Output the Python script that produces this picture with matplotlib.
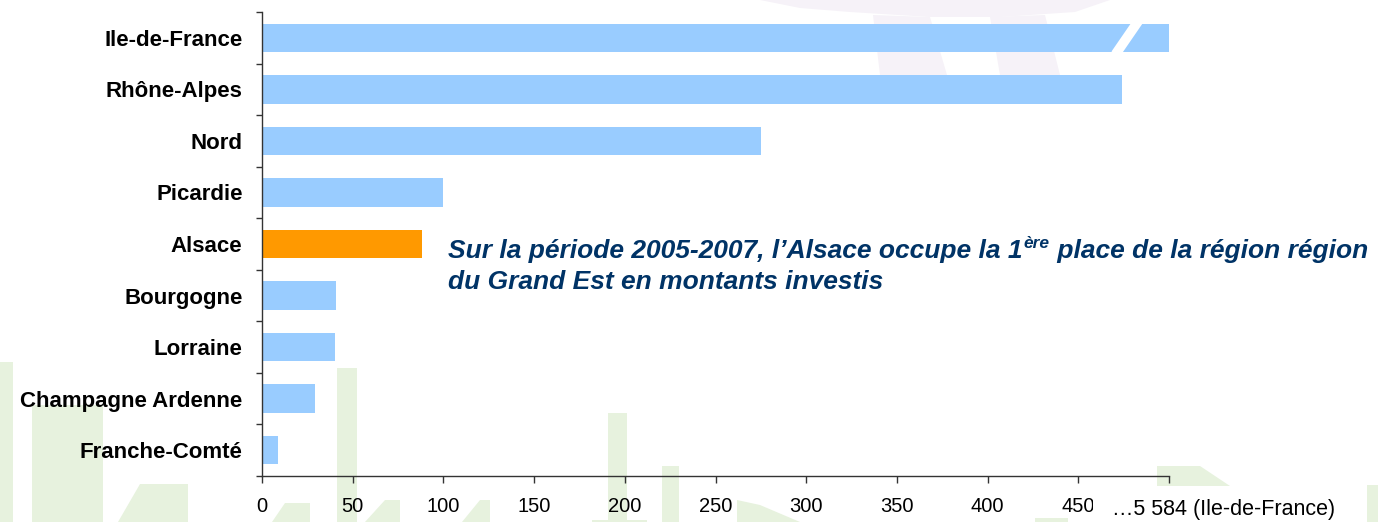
import matplotlib
matplotlib.use("Agg")
import matplotlib.pyplot as plt
from matplotlib.patches import Polygon, Rectangle

plt.rcParams['font.family'] = ['Liberation Sans', 'DejaVu Sans']

# données (montants investis, Ile-de-France tronquée à 500 sur l'axe)
regions = ["Ile-de-France", "Rhône-Alpes", "Nord", "Picardie", "Alsace",
           "Bourgogne", "Lorraine", "Champagne Ardenne", "Franche-Comté"]
montants = [500, 474, 275, 100, 88, 41, 40, 29, 9]
couleurs = ["#99CCFF", "#99CCFF", "#99CCFF", "#99CCFF", "#FF9900",
            "#99CCFF", "#99CCFF", "#99CCFF", "#99CCFF"]
xticks = [0, 50, 100, 150, 200, 250, 300, 350, 400, 450, 500]
xlabels = ["0", "50", "100", "150", "200", "250", "300", "350", "400", "450", ""]
label_idf = "…5 584 (Ile-de-France)"

W, H = 1378, 522
fig = plt.figure(figsize=(W / 100, H / 100), dpi=100)

# fond : filigranes pâles (coordonnées en pixels)
bg = fig.add_axes([0, 0, 1, 1], zorder=-1)
bg.set_xlim(0, W)
bg.set_ylim(H, 0)
bg.axis("off")
vert = "#e7f2de"
violet = "#f6f2f8"
formes_vertes = [
    [(0, 362), (13, 362), (13, 522), (0, 522)],
    [(32, 405), (103, 405), (103, 522), (32, 522)],
    [(140, 484), (188, 484), (188, 522), (118, 522)],
    [(337, 368), (357, 368), (357, 522), (337, 522)],
    [(285, 503), (310, 503), (310, 522), (272, 522)],
    [(385, 500), (400, 500), (400, 522), (365, 522)],
    [(608, 413), (627, 413), (627, 522), (608, 522)],
    [(662, 466), (679, 466), (679, 522), (662, 522)],
    [(480, 500), (490, 500), (490, 522), (462, 522)],
    [(737, 500), (760, 505), (800, 522), (737, 522)],
    [(592, 520), (647, 520), (647, 522), (592, 522)],
    [(1157, 466), (1200, 466), (1230, 486), (1157, 486)],
    [(1035, 518), (1068, 518), (1068, 522), (1035, 522)],
    [(1367, 485), (1378, 485), (1378, 522), (1367, 522)],
]
for pts in formes_vertes:
    bg.add_patch(Polygon(pts, closed=True, facecolor=vert, edgecolor="none"))
formes_violettes = [
    [(760, 0), (1110, 0), (1075, 12), (1000, 17), (930, 17), (850, 12), (800, 8)],
    [(873, 15), (930, 17), (947, 75), (880, 75)],
    [(990, 17), (1045, 15), (1060, 75), (1000, 75)],
]
for pts in formes_violettes:
    bg.add_patch(Polygon(pts, closed=True, facecolor=violet, edgecolor="none"))

# graphique principal
ax = fig.add_axes([262 / W, 46 / H, 907 / W, 464 / H])
ax.set_facecolor("none")
y = list(range(len(regions)))
ax.barh(y, montants, height=0.55, color=couleurs, zorder=2)

ax.set_xlim(0, 500)
ax.set_ylim(8.5, -0.5)
ax.set_yticks(y)
ax.set_yticklabels(regions, fontsize=16, fontweight="bold")
ax.set_yticks([i - 0.5 for i in range(len(regions) + 1)], minor=True)
ax.tick_params(axis="y", which="major", length=0, pad=14)
ax.tick_params(axis="y", which="minor", length=4.5, width=1, color="#333333")
ax.set_xticks(xticks)
ax.set_xticklabels(xlabels, fontsize=14.5)
ax.tick_params(axis="x", length=5, width=1, color="#333333", pad=10)
for s in ["top", "right"]:
    ax.spines[s].set_visible(False)
for s in ["left", "bottom"]:
    ax.spines[s].set_color("#333333")
    ax.spines[s].set_linewidth(1)

# coupure de la barre Ile-de-France
ax.plot([470.5, 487.5], [0.32, -0.55], color="white", lw=7, solid_capstyle="butt",
        zorder=3, clip_on=False)

# étiquette de l'axe pour Ile-de-France (cache en partie le 450)
fig.patches.append(Rectangle((1093 / W, 1 - 520 / H), 274 / W, 34 / H,
                             transform=fig.transFigure, facecolor="white",
                             edgecolor="none", zorder=1))
fig.text(1112 / W, 1 - 509 / H, label_idf, fontsize=15.5, va="center", ha="left",
         zorder=3)

# commentaire
bleu = "#003366"
style = dict(color=bleu, fontweight="bold", fontstyle="italic")
t1 = fig.text(448 / W, 1 - 258 / H, "Sur la période 2005-2007, l’Alsace occupe la 1",
              fontsize=19, va="baseline", **style)
r = fig.canvas.get_renderer()
x1 = t1.get_window_extent(r).x1
t2 = fig.text((x1 + 1) / W, 1 - 248 / H, "ère", fontsize=12.5, va="baseline", **style)
x2 = t2.get_window_extent(r).x1
fig.text(x2 / W, 1 - 258 / H, " place de la région région", fontsize=19,
         va="baseline", **style)
fig.text(448 / W, 1 - 289 / H, "du Grand Est en montants investis", fontsize=19,
         va="baseline", **style)

fig.savefig("out.png", dpi=100)
